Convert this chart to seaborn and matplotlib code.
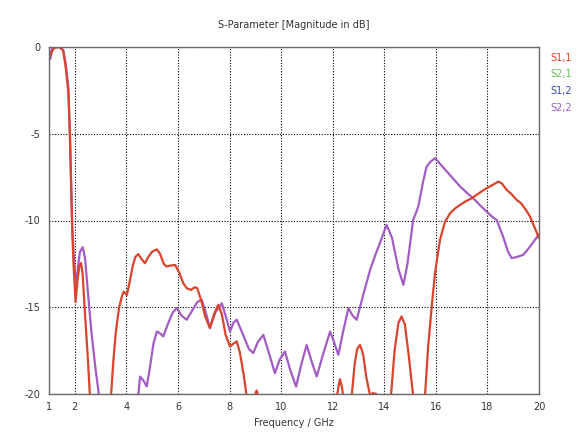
import matplotlib
matplotlib.use("Agg")
import matplotlib.pyplot as plt
import seaborn as sns
import numpy as np

# ---- data ----
s11_freq = [1.00, 1.05, 1.10, 1.20, 1.40, 1.55, 1.65, 1.75, 1.81, 1.86, 1.90, 1.95, 2.03, 2.10, 2.18,
            2.24, 2.30, 2.40, 2.50, 2.59, 2.70, 3.00, 3.30, 3.40, 3.50, 3.60, 3.72, 3.84, 3.90, 4.02,
            4.12, 4.25, 4.35, 4.46, 4.58, 4.72, 4.85, 5.00, 5.18, 5.30, 5.45, 5.56, 5.70, 5.89, 6.05,
            6.20, 6.34, 6.50, 6.65, 6.75, 6.90, 7.05, 7.24, 7.40, 7.56, 7.70, 7.85, 8.02, 8.15, 8.28,
            8.40, 8.55, 8.67, 8.80, 8.95, 9.05, 9.15, 9.30, 10.5, 12.00, 12.10, 12.18, 12.28, 12.36,
            12.41, 12.55, 12.68, 12.74, 12.85, 12.95, 13.06, 13.18, 13.30, 13.45, 13.55, 13.70, 13.80,
            14.10, 14.26, 14.40, 14.55, 14.67, 14.80, 14.95, 15.12, 15.30, 15.45, 15.58, 15.70, 15.85,
            15.97, 16.16, 16.35, 16.55, 16.75, 16.94, 17.15, 17.39, 17.60, 17.80, 17.97, 18.20, 18.42,
            18.55, 18.75, 18.95, 19.13, 19.30, 19.50, 19.65, 19.80, 20.00]
s11_db = [-0.2, -0.5, -0.3, -0.05, 0.0, -0.2, -1.2, -2.6, -5.0, -8.0, -10.5, -12.5, -14.7, -13.5, -12.6,
          -12.45, -13.0, -15.5, -17.8, -20.2, -23.0, -26.0, -23.0, -20.2, -18.0, -16.3, -15.0, -14.3, -14.1, -14.3,
          -13.6, -12.6, -12.1, -11.94, -12.2, -12.46, -12.1, -11.8, -11.66, -11.9, -12.5, -12.65, -12.6, -12.56, -13.0,
          -13.6, -13.9, -14.0, -13.85, -13.9, -14.6, -15.5, -16.2, -15.4, -14.86, -15.4, -16.6, -17.26, -17.1, -16.97,
          -17.6, -18.9, -20.2, -21.0, -20.2, -19.8, -20.3, -22.0, -25.0, -22.0, -21.0, -20.0, -19.14, -19.6,
          -20.2, -22.0, -21.0, -20.1, -18.3, -17.4, -17.17, -17.7, -19.0, -20.1, -19.95, -20.0, -21.0,
          -23.0, -20.1, -17.5, -15.9, -15.53, -16.0, -17.8, -20.1, -23.0, -22.0, -20.1, -17.3, -14.8,
          -13.0, -11.12, -10.1, -9.58, -9.3, -9.1, -8.9, -8.72, -8.5, -8.3, -8.14, -7.95, -7.76,
          -7.85, -8.24, -8.5, -8.81, -9.0, -9.4, -9.77, -10.3, -11.0]

s22_freq = [1.00, 1.04, 1.08, 1.12, 1.20, 1.40, 1.55, 1.65, 1.75, 1.81, 1.86, 1.90, 1.96, 2.02, 2.07,
            2.13, 2.20, 2.31, 2.40, 2.50, 2.65, 2.80, 2.94, 3.10, 3.70, 4.30, 4.46, 4.53, 4.65, 4.79,
            4.90, 5.05, 5.18, 5.30, 5.43, 5.60, 5.80, 5.95, 6.15, 6.34, 6.55, 6.75, 6.92, 7.08, 7.24,
            7.45, 7.70, 7.85, 8.02, 8.15, 8.28, 8.50, 8.75, 8.92, 9.10, 9.31, 9.50, 9.76, 9.95, 10.15,
            10.35, 10.58, 10.80, 10.99, 11.20, 11.38, 11.65, 11.90, 12.05, 12.22, 12.42, 12.61, 12.78, 12.93,
            13.20, 13.45, 13.65, 13.83, 14.09, 14.30, 14.55, 14.74, 14.90, 15.12, 15.32, 15.50, 15.64,
            15.80, 15.97, 16.20, 16.50, 16.94, 17.20, 17.45, 17.70, 17.97, 18.20, 18.36, 18.60, 18.80,
            18.94, 19.15, 19.39, 19.60, 19.80, 20.00]
s22_db = [-0.1, -0.7, -0.5, -0.1, 0.0, 0.0, -0.17, -1.0, -2.3, -5.0, -8.0, -10.3, -12.0, -13.2, -13.5,
          -12.6, -11.8, -11.54, -12.2, -14.0, -16.5, -18.5, -20.1, -22.0, -25.0, -22.0, -20.1, -19.0, -19.2, -19.56,
          -18.6, -17.1, -16.4, -16.5, -16.68, -16.0, -15.3, -15.05, -15.5, -15.72, -15.2, -14.7, -14.57, -15.3, -16.2,
          -15.3, -14.77, -15.5, -16.4, -15.9, -15.72, -16.5, -17.4, -17.64, -17.0, -16.59, -17.5, -18.8, -18.0, -17.55,
          -18.6, -19.57, -18.2, -17.17, -18.2, -18.99, -17.6, -16.4, -17.0, -17.74, -16.3, -15.05, -15.5, -15.72,
          -14.2, -12.85, -12.0, -11.31, -10.25, -11.0, -12.8, -13.71, -12.5, -9.97, -9.2, -7.8, -6.9,
          -6.6, -6.41, -6.8, -7.3, -8.04, -8.4, -8.72, -9.1, -9.49, -9.8, -9.97, -10.9, -11.8,
          -12.17, -12.1, -11.98, -11.6, -11.2, -10.8]

legend_labels = ["S1,1", "S2,1", "S1,2", "S2,2"]
legend_colors = ["#d8442c", "#6cbf5c", "#3b4aa6", "#a25cc4"]
x_ticks = [1, 2, 4, 6, 8, 10, 12, 14, 16, 18, 20]
y_ticks = [0, -5, -10, -15, -20]

# ---- figure ----
sns.set_theme(style="white")
plt.rcParams['font.family'] = ['DejaVu Sans']

fig = plt.figure(figsize=(5.81, 4.34), dpi=100)
ax = fig.add_axes([49/581, 1 - 394/434, (539-49)/581, (394-47)/434])

sns.lineplot(x=s11_freq, y=s11_db, sort=False, color=legend_colors[0], linewidth=1.6, ax=ax, zorder=3)
sns.lineplot(x=s22_freq, y=s22_db, sort=False, color=legend_colors[3], linewidth=1.6, ax=ax, zorder=2)

ax.set_xlim(1, 20)
ax.set_ylim(-20, 0)
ax.set_xticks(x_ticks)
ax.set_yticks(y_ticks)
ax.set_xticklabels([str(t) for t in x_ticks])
ax.set_yticklabels([str(t) for t in y_ticks])
ax.tick_params(axis='both', labelsize=7, colors='#333333', length=3, width=0.8, direction='out', pad=3)
ax.tick_params(axis='both', colors='#555555', labelcolor='#333333')

ax.grid(True, color='black', linestyle=(0, (1, 1.5)), linewidth=0.8)
for s in ax.spines.values():
    s.set_color('#6a6a6a')
    s.set_linewidth(1.0)
    s.set_zorder(4)

ax.set_xlabel("Frequency / GHz", fontsize=7, color='#333333', labelpad=4)
ax.set_ylabel("")
fig.text(294/581, 1 - 25/434, "S-Parameter [Magnitude in dB]", ha='center', va='center',
         fontsize=7, color='#333333')

for i, (lab, col) in enumerate(zip(legend_labels, legend_colors)):
    fig.text(550/581, 1 - (58 + 16.5*i)/434, lab, ha='left', va='center', fontsize=7, color=col)

fig.savefig("out.png", dpi=100, facecolor='white')
